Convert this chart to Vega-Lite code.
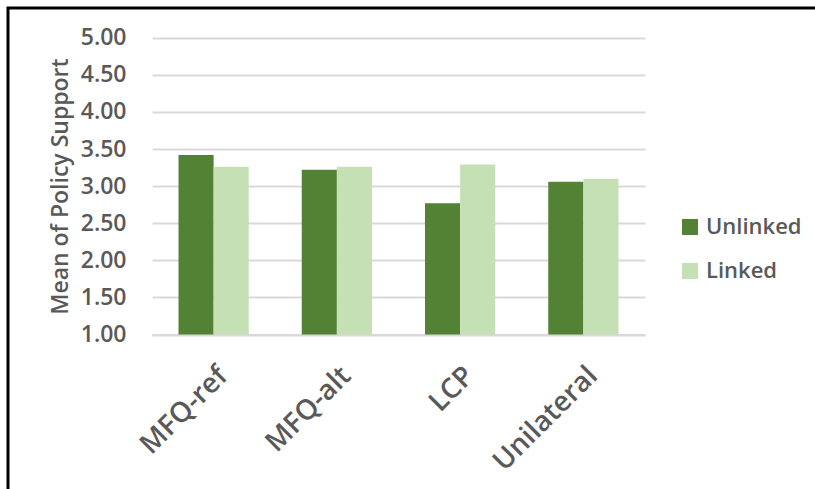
{
  "$schema": "https://vega.github.io/schema/vega-lite/v6.json",
  "width": 820,
  "height": 490,
  "autosize": {"type": "none"},
  "padding": {"left": 8, "top": 8, "right": 0, "bottom": 0},
  "background": "white",
  "config": {
    "font": "Open Sans",
    "view": {"stroke": "#000000", "strokeWidth": 3}
  },
  "data": {
    "values": [
      {"measure": "MFQ-ref", "condition": "Unlinked", "mean": 3.42},
      {"measure": "MFQ-ref", "condition": "Linked", "mean": 3.26},
      {"measure": "MFQ-alt", "condition": "Unlinked", "mean": 3.22},
      {"measure": "MFQ-alt", "condition": "Linked", "mean": 3.26},
      {"measure": "LCP", "condition": "Unlinked", "mean": 2.77},
      {"measure": "LCP", "condition": "Linked", "mean": 3.29},
      {"measure": "Unilateral", "condition": "Unlinked", "mean": 3.06},
      {"measure": "Unilateral", "condition": "Linked", "mean": 3.10}
    ]
  },
  "mark": {"type": "bar"},
  "encoding": {
    "x": {
      "field": "measure",
      "type": "nominal",
      "sort": ["MFQ-ref", "MFQ-alt", "LCP", "Unilateral"],
      "scale": {"range": [144, 637], "paddingInner": 0.43, "paddingOuter": 0.215},
      "axis": {
        "title": null,
        "offset": -163.5,
        "labelAngle": -45,
        "labelFontSize": 28,
        "labelFontWeight": 600,
        "labelColor": "#595959",
        "labelPadding": 27,
        "ticks": false,
        "domainColor": "#D9D9D9",
        "domainWidth": 2,
        "grid": false
      }
    },
    "xOffset": {
      "field": "condition",
      "type": "nominal",
      "sort": ["Unlinked", "Linked"],
      "scale": {"paddingInner": 0, "paddingOuter": 0}
    },
    "y": {
      "field": "mean",
      "type": "quantitative",
      "scale": {"domain": [1, 5], "range": [326.5, 29.7], "nice": false, "zero": false},
      "axis": {
        "title": "Mean of Policy Support",
        "titleFontSize": 23,
        "titleFontWeight": 600,
        "titleColor": "#595959",
        "titlePadding": 8,
        "values": [1, 1.5, 2, 2.5, 3, 3.5, 4, 4.5, 5],
        "format": ".2f",
        "offset": -124,
        "labelPadding": 6,
        "labelFontSize": 23,
        "labelFontWeight": 600,
        "labelColor": "#595959",
        "ticks": false,
        "domain": false,
        "grid": true,
        "gridColor": "#D9D9D9",
        "gridWidth": 2
      }
    },
    "y2": {"datum": 1},
    "color": {
      "field": "condition",
      "type": "nominal",
      "sort": ["Unlinked", "Linked"],
      "scale": {"domain": ["Unlinked", "Linked"], "range": ["#548235", "#C5E0B4"]},
      "legend": {
        "title": null,
        "orient": "none",
        "legendX": 671,
        "legendY": 208,
        "symbolType": "square",
        "symbolSize": 256,
        "symbolStrokeWidth": 0,
        "labelFontSize": 22,
        "labelFontWeight": 600,
        "labelColor": "#595959",
        "labelOffset": 5,
        "rowPadding": 22
      }
    }
  }
}
